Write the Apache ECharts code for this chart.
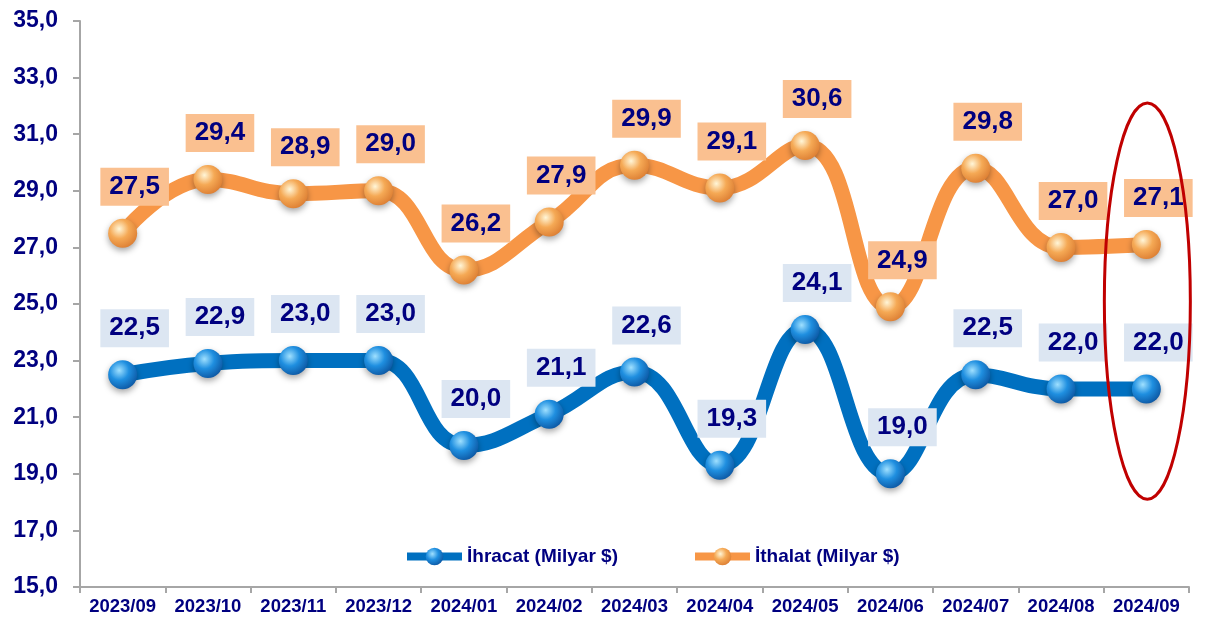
<!DOCTYPE html>
<html>
<head>
<meta charset="utf-8">
<script src="https://cdn.jsdelivr.net/npm/echarts@6/dist/echarts.min.js"></script>
<style>
html, body { margin: 0; padding: 0; background: #fff; }
#main { width: 1208px; height: 622px; }
</style>
</head>
<body>
<div id="main"></div>
<script>
var months = ['2023/09', '2023/10', '2023/11', '2023/12', '2024/01', '2024/02', '2024/03',
	'2024/04', '2024/05', '2024/06', '2024/07', '2024/08', '2024/09'];
var ihracat = [22.5, 22.9, 23.0, 23.0, 20.0, 21.1, 22.6, 19.3, 24.1, 19.0, 22.5, 22.0, 22.0];
var ithalat = [27.5, 29.4, 28.9, 29.0, 26.2, 27.9, 29.9, 29.1, 30.6, 24.9, 29.8, 27.0, 27.1];
var seriesNames = ['İhracat (Milyar $)', 'İthalat (Milyar $)'];
// vurgulanan ay (son ay) ve elips aralığı
var markIndex = 12;
var markRange = [18.1, 32.1];

var navy = '#000080';
var font = 'Liberation Sans, Arial, sans-serif';

function virgul(v) {
	return Number(v).toFixed(1).replace('.', ',');
}

function kure(light, base, dark) {
	return {
		type: 'radial', x: 0.38, y: 0.35, r: 0.75,
		colorStops: [
			{ offset: 0, color: light },
			{ offset: 0.45, color: base },
			{ offset: 1, color: dark }
		]
	};
}

function seri(name, data, lineColor, sphere, labelBg) {
	return {
		name: name,
		type: 'line',
		data: data,
		smooth: 0.45,
		symbol: 'circle',
		symbolSize: 29,
		lineStyle: { color: lineColor, width: 15 },
		itemStyle: {
			color: sphere,
			shadowColor: 'rgba(0,0,0,0.35)',
			shadowBlur: 6,
			shadowOffsetY: 3
		},
		label: {
			show: true,
			position: 'top',
			distance: 13,
			offset: [12, 0],
			formatter: function (p) { return virgul(p.value); },
			color: navy,
			fontFamily: font,
			fontWeight: 'bold',
			fontSize: 26,
			backgroundColor: labelBg,
			padding: [6, 9, 6, 9]
		},
		z: 3
	};
}

var chart = echarts.init(document.getElementById('main'));
var option = {
	animation: false,
	grid: { left: 80, right: 19, top: 21, bottom: 35, containLabel: false },
	legend: {
		data: seriesNames,
		left: 398,
		top: 542,
		itemWidth: 55,
		itemHeight: 22,
		itemGap: 73,
		lineStyle: { width: 8 },
		textStyle: { color: navy, fontFamily: font, fontWeight: 'bold', fontSize: 19 }
	},
	xAxis: {
		type: 'category',
		data: months,
		boundaryGap: true,
		axisLine: { lineStyle: { color: '#A6A6A6', width: 2 } },
		axisTick: { show: true, interval: 0, length: 6, lineStyle: { color: '#A6A6A6', width: 2 } },
		axisLabel: { interval: 0, color: navy, fontFamily: font, fontWeight: 'bold', fontSize: 18.5, margin: 10 },
		splitLine: { show: false }
	},
	yAxis: {
		type: 'value',
		min: 15,
		max: 35,
		interval: 2,
		axisLine: { show: true, lineStyle: { color: '#A6A6A6', width: 2 } },
		axisTick: { show: true, inside: false, length: 7, lineStyle: { color: '#A6A6A6', width: 2 } },
		axisLabel: {
			color: navy, fontFamily: font, fontWeight: 'bold', fontSize: 23, margin: 22,
			formatter: function (v) { return virgul(v); }
		},
		splitLine: { show: false }
	},
	series: [
		seri(seriesNames[0], ihracat, '#0070C0', kure('#9fe0ff', '#1f8fe0', '#0a4f9a'), '#DCE6F2'),
		seri(seriesNames[1], ithalat, '#F79646', kure('#fff6d8', '#f5a955', '#d9782e'), '#FAC090')
	]
};
chart.setOption(option);

// son ayı çevreleyen kırmızı elips
var ust = chart.convertToPixel({ gridIndex: 0 }, [markIndex, markRange[1]]);
var alt = chart.convertToPixel({ gridIndex: 0 }, [markIndex, markRange[0]]);
chart.setOption({
	graphic: [{
		type: 'ellipse',
		shape: { cx: ust[0] + 1, cy: (ust[1] + alt[1]) / 2, rx: 43, ry: (alt[1] - ust[1]) / 2 },
		style: { fill: 'none', stroke: '#C00000', lineWidth: 3 },
		z: 10
	}]
});
</script>
</body>
</html>
